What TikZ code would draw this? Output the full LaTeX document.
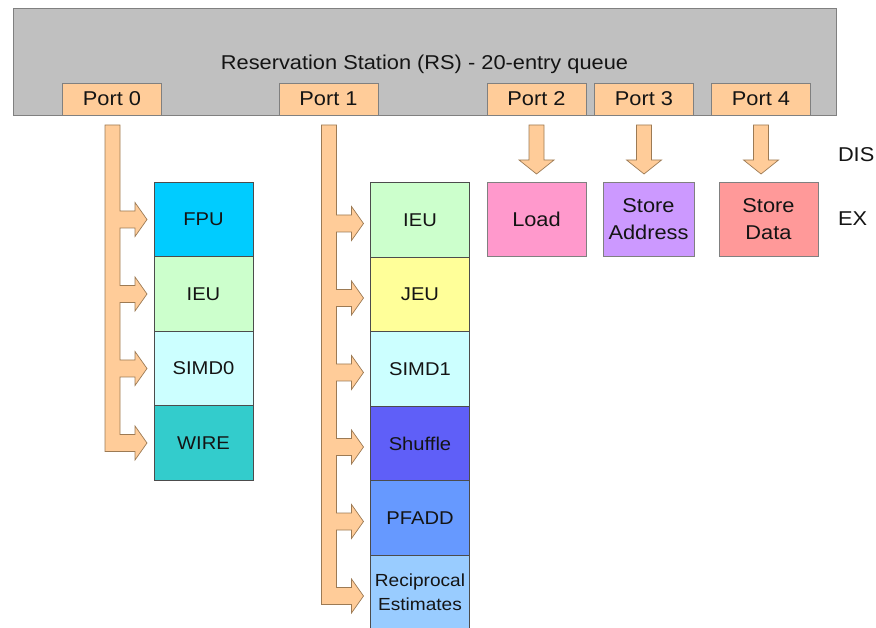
\documentclass[tikz,border=0pt]{standalone}
\usepackage{fontspec}
\setmainfont[FakeStretch=1.09]{Liberation Sans}
\usetikzlibrary{positioning,calc}
\definecolor{rsgray}{HTML}{C0C0C0}
\definecolor{peach}{HTML}{FFCC99}
\definecolor{busline}{HTML}{9C7A54}
\definecolor{fpu}{HTML}{00CCFF}
\definecolor{ieu}{HTML}{CCFFCC}
\definecolor{simd}{HTML}{CCFFFF}
\definecolor{wire}{HTML}{33CCCC}
\definecolor{jeu}{HTML}{FFFF99}
\definecolor{shuffle}{HTML}{5F5FF8}
\definecolor{pfadd}{HTML}{6699FF}
\definecolor{recip}{HTML}{99CCFF}
\definecolor{load}{HTML}{FF99CC}
\definecolor{staddr}{HTML}{CC99FF}
\definecolor{stdata}{HTML}{FF9999}

\begin{document}
\begin{tikzpicture}[x=1pt, y=-1pt,
  every node/.style={inner sep=0pt, outer sep=0pt, align=center, text=black!92},
  big/.style={font=\fontsize{20}{27}\selectfont},
  unit/.style={draw=black!70, line width=0.8pt, minimum width=99pt,
    minimum height=74.5pt, font=\fontsize{18.5}{22}\selectfont},
  exbox/.style={draw=black!50, line width=0.8pt, minimum height=74pt, big},
  port/.style={draw=black!50, line width=0.8pt, fill=peach,
    minimum width=99pt, minimum height=32pt, big},
  bus/.style={fill=peach, draw=busline, line width=0.7pt, line join=miter}
]
\useasboundingbox (0,0) rectangle (876,628);

% reservation station and its ports
\node[draw=black!50, line width=0.8pt, fill=rsgray, minimum width=823pt,
  minimum height=107pt] (rs) at (424.5,61.5) {};
\node[big] (rstitle) at (424.5,64) {Reservation Station (RS) - 20-entry queue};
\node[port] (p0) at (112,99) {Port 0};
\node[port] (p1) at (328.5,99) {Port 1};
\node[port] (p2) at (536.5,99) {Port 2};
\node[port] (p3) at (644,99) {Port 3};
\node[port] (p4) at (761,99) {Port 4};

% port 0 units
\node[unit, fill=fpu] (fpu) at (203.5,219.5) {FPU};
\node[unit, fill=ieu, below=0pt of fpu] (ieu0) {IEU};
\node[unit, fill=simd, below=0pt of ieu0] (simd0) {SIMD0};
\node[unit, fill=wire, below=0pt of simd0] (wire) {WIRE};

% port 1 units
\node[unit, fill=ieu] (ieu1) at (420,220) {IEU};
\node[unit, fill=jeu, below=0pt of ieu1] (jeu) {JEU};
\node[unit, fill=simd, below=0pt of jeu] (simd1) {SIMD1};
\node[unit, fill=shuffle, below=0pt of simd1] (shuffle) {Shuffle};
\node[unit, fill=pfadd, below=0pt of shuffle] (pfadd) {PFADD};
\node[unit, fill=recip, below=0pt of pfadd,
  font=\fontsize{17.5}{24}\selectfont] (recip) {Reciprocal\\Estimates};

% ports 2-4 units
\node[exbox, fill=load, minimum width=99pt] (load) at (536.5,219) {Load};
\node[exbox, fill=staddr, minimum width=91pt] (staddr) at (648.5,219) {Store\\Address};
\node[exbox, fill=stdata, minimum width=99pt] (stdata) at (768.5,219) {Store\\Data};

\node[big, anchor=west] (dis) at (838,155) {DIS};
\node[big, anchor=west] (ex) at (838,219) {EX};

% dispatch buses
\coordinate (bus0) at ($(fpu.west |- p0.south)+(-49,10)$);
\filldraw[bus] (bus0) -- ++(15,0)
  \foreach \u in {fpu,ieu0,simd0,wire} {
    -- ($(\u.west)+(-34,-8.5)$) -- ($(\u.west)+(-19,-8.5)$)
    -- ($(\u.west)+(-19,-17)$) -- ($(\u.west)+(-7,0)$)
    -- ($(\u.west)+(-19,17)$) -- ($(\u.west)+(-19,8.5)$)
    -- ($(\u.west)+(-34,8.5)$) }
  -- ($(wire.west)+(-49,8.5)$) -- cycle;

\coordinate (bus1) at ($(ieu1.west |- p1.south)+(-49,10)$);
\filldraw[bus] (bus1) -- ++(15,0)
  \foreach \u in {ieu1,jeu,simd1,shuffle,pfadd,recip} {
    -- ($(\u.west)+(-34,-5)$) -- ($(\u.west)+(-19,-5)$)
    -- ($(\u.west)+(-19,-13.5)$) -- ($(\u.west)+(-7,3.5)$)
    -- ($(\u.west)+(-19,20.5)$) -- ($(\u.west)+(-19,12)$)
    -- ($(\u.west)+(-34,12)$) }
  -- ($(recip.west)+(-49,12)$) -- cycle;

\foreach \p in {p2,p3,p4}
  \filldraw[bus] ($(\p.south)+(-7.5,10)$) -- ++(15,0) -- ++(0,35)
    -- ++(10,0) -- ++(-17.5,14) -- ++(-17.5,-14) -- ++(10,0) -- cycle;
\end{tikzpicture}
\end{document}
